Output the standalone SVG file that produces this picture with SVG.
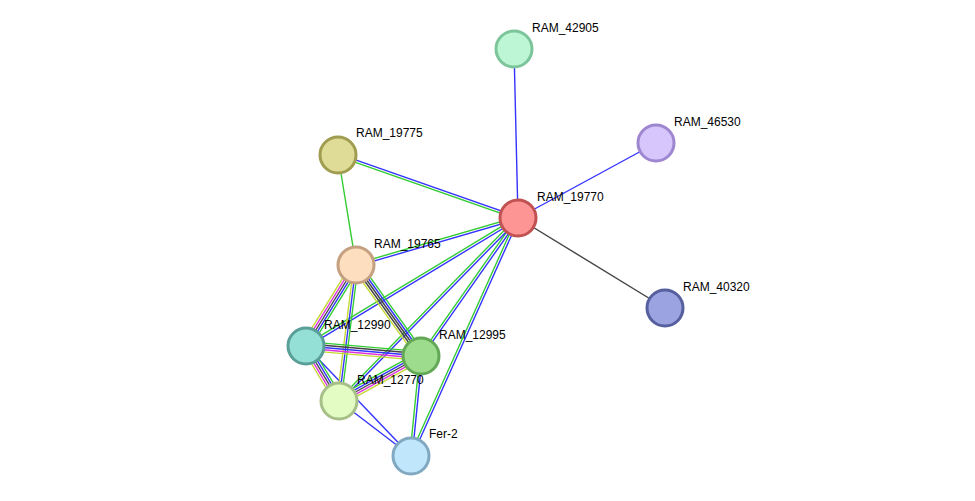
<svg xmlns="http://www.w3.org/2000/svg" width="975" height="501" viewBox="0 0 975 501">
<style>
line{stroke-width:1.4;fill:none}
.g{stroke:#33cc33}.b{stroke:#3333ff}.k{stroke:#444444}.m{stroke:#dd33dd}.y{stroke:#c4d832}
circle{stroke-width:3}
text{font-family:"Liberation Sans",Arial,sans-serif;font-size:12px;fill:#000}
</style>
<rect width="975" height="501" fill="#fff"/>
<g id="edges">
<line class="b" x1="518" y1="218" x2="514" y2="49"/>
<line class="b" x1="518" y1="218" x2="656" y2="143"/>
<line class="k" x1="518" y1="218" x2="665" y2="308"/>
<line class="g" x1="338" y1="155" x2="356" y2="265"/>
<g transform="translate(0.4,-1.13)"><line class="b" x1="518" y1="218" x2="338" y2="155"/></g>
<g transform="translate(-0.4,1.13)"><line class="g" x1="518" y1="218" x2="338" y2="155"/></g>
<g transform="translate(-0.33,-1.15)"><line class="g" x1="518" y1="218" x2="356" y2="265"/></g>
<g transform="translate(0.33,1.15)"><line class="b" x1="518" y1="218" x2="356" y2="265"/></g>
<g transform="translate(-0.62,-1.03)"><line class="g" x1="518" y1="218" x2="306" y2="346"/></g>
<g transform="translate(0.62,1.03)"><line class="b" x1="518" y1="218" x2="306" y2="346"/></g>
<g transform="translate(-0.98,-0.69)"><line class="g" x1="518" y1="218" x2="421" y2="356"/></g>
<g transform="translate(0.98,0.69)"><line class="b" x1="518" y1="218" x2="421" y2="356"/></g>
<g transform="translate(-0.86,-0.84)"><line class="g" x1="518" y1="218" x2="339" y2="401"/></g>
<g transform="translate(0.86,0.84)"><line class="b" x1="518" y1="218" x2="339" y2="401"/></g>
<g transform="translate(-1.09,-0.49)"><line class="g" x1="518" y1="218" x2="411" y2="456"/></g>
<g transform="translate(1.09,0.49)"><line class="b" x1="518" y1="218" x2="411" y2="456"/></g>
<g transform="translate(-1.19,-0.12)"><line class="g" x1="421" y1="356" x2="411" y2="456"/></g>
<g transform="translate(1.19,0.12)"><line class="b" x1="421" y1="356" x2="411" y2="456"/></g>
<line class="b" x1="339" y1="401" x2="411" y2="456"/>
<line class="b" x1="306" y1="346" x2="411" y2="456"/>
<!-- C-D -->
<g transform="translate(3.74,2.32)"><line class="g" x1="356" y1="265" x2="306" y2="346"/></g>
<g transform="translate(1.87,1.16)"><line class="b" x1="356" y1="265" x2="306" y2="346"/></g>
<line class="k" x1="356" y1="265" x2="306" y2="346"/>
<g transform="translate(-1.87,-1.16)"><line class="m" x1="356" y1="265" x2="306" y2="346"/></g>
<g transform="translate(-3.74,-2.32)"><line class="y" x1="356" y1="265" x2="306" y2="346"/></g>
<!-- C-E -->
<g transform="translate(3.58,-2.56)"><line class="g" x1="356" y1="265" x2="421" y2="356"/></g>
<g transform="translate(1.79,-1.28)"><line class="b" x1="356" y1="265" x2="421" y2="356"/></g>
<line class="k" x1="356" y1="265" x2="421" y2="356"/>
<g transform="translate(-1.79,1.28)"><line class="k" x1="356" y1="265" x2="421" y2="356"/></g>
<g transform="translate(-3.58,2.56)"><line class="y" x1="356" y1="265" x2="421" y2="356"/></g>
<!-- C-F -->
<g transform="translate(2.18,0.27)"><line class="g" x1="356" y1="265" x2="339" y2="401"/></g>
<line class="b" x1="356" y1="265" x2="339" y2="401"/>
<g transform="translate(-2.18,-0.27)"><line class="y" x1="356" y1="265" x2="339" y2="401"/></g>
<!-- D-E -->
<g transform="translate(0.38,-4.38)"><line class="g" x1="306" y1="346" x2="421" y2="356"/></g>
<g transform="translate(0.19,-2.19)"><line class="k" x1="306" y1="346" x2="421" y2="356"/></g>
<line class="b" x1="306" y1="346" x2="421" y2="356"/>
<g transform="translate(-0.19,2.19)"><line class="m" x1="306" y1="346" x2="421" y2="356"/></g>
<g transform="translate(-0.38,4.38)"><line class="y" x1="306" y1="346" x2="421" y2="356"/></g>
<!-- D-F -->
<g transform="translate(3.78,-2.26)"><line class="g" x1="306" y1="346" x2="339" y2="401"/></g>
<g transform="translate(1.89,-1.13)"><line class="b" x1="306" y1="346" x2="339" y2="401"/></g>
<line class="k" x1="306" y1="346" x2="339" y2="401"/>
<g transform="translate(-1.89,1.13)"><line class="m" x1="306" y1="346" x2="339" y2="401"/></g>
<g transform="translate(-3.78,2.26)"><line class="y" x1="306" y1="346" x2="339" y2="401"/></g>
<!-- E-F -->
<g transform="translate(-2.12,-3.86)"><line class="g" x1="421" y1="356" x2="339" y2="401"/></g>
<g transform="translate(-1.06,-1.93)"><line class="b" x1="421" y1="356" x2="339" y2="401"/></g>
<line class="k" x1="421" y1="356" x2="339" y2="401"/>
<g transform="translate(1.06,1.93)"><line class="m" x1="421" y1="356" x2="339" y2="401"/></g>
<g transform="translate(2.12,3.86)"><line class="y" x1="421" y1="356" x2="339" y2="401"/></g>
</g>
<g id="n42905"><circle cx="514" cy="49" r="18" fill="#bdf6d4" stroke="#7cc49a"/><text x="532" y="32">RAM_42905</text></g>
<g id="n46530"><circle cx="656" cy="143" r="18" fill="#d6c6fc" stroke="#9e86d0"/><text x="674" y="126">RAM_46530</text></g>
<g id="n19775"><circle cx="338" cy="155" r="18" fill="#dedc96" stroke="#a09c50"/><text x="356" y="137">RAM_19775</text></g>
<g id="n19770"><circle cx="518" cy="218" r="18" fill="#fd9595" stroke="#c05252"/><text x="537" y="201">RAM_19770</text></g>
<g id="n19765"><circle cx="356" cy="265" r="18" fill="#fddfc0" stroke="#c4a080"/><text x="374" y="248">RAM_19765</text></g>
<g id="n40320"><circle cx="665" cy="308" r="18" fill="#9ba4e0" stroke="#56609e"/><text x="683" y="291">RAM_40320</text></g>
<g id="n12990"><circle cx="306" cy="346" r="18" fill="#94dfd6" stroke="#5a9e98"/><text x="324" y="329">RAM_12990</text></g>
<g id="n12995"><circle cx="421" cy="356" r="18" fill="#9ddc8c" stroke="#62a856"/><text x="439" y="339">RAM_12995</text></g>
<g id="n12770"><circle cx="339" cy="401" r="18" fill="#e2fcc4" stroke="#a6c088"/><text x="357" y="384">RAM_12770</text></g>
<g id="nFer2"><circle cx="411" cy="456" r="18" fill="#c0e6fc" stroke="#80a8c0"/><text x="429" y="438">Fer-2</text></g>
</svg>
